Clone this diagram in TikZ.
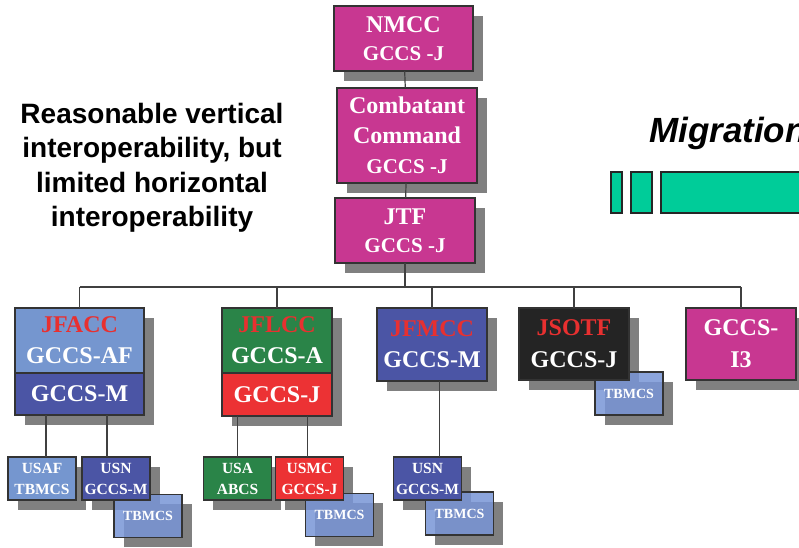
\documentclass[tikz,border=0pt]{standalone}
\usepackage{fontspec}
\setmainfont{Liberation Serif}
\newfontfamily\labelfont{Liberation Sans}
\usetikzlibrary{positioning,backgrounds}

\definecolor{cmdmagenta}{RGB}{200,55,145}
\definecolor{airblue}{RGB}{117,150,207}
\definecolor{seablue}{RGB}{75,85,165}
\definecolor{armygreen}{RGB}{42,132,72}
\definecolor{marinered}{RGB}{236,50,52}
\definecolor{sofblack}{RGB}{36,36,36}
\definecolor{tbmcsblue}{RGB}{120,149,214}
\definecolor{shadowgray}{RGB}{128,128,128}
\definecolor{migrgreen}{RGB}{0,204,153}
\definecolor{titlered}{RGB}{232,48,48}

\tikzset{
  cmdbox/.style={draw=black!80,line width=1.5pt,text=white,align=center,
    inner sep=0pt,outer sep=0pt,font=\bfseries\fontsize{24}{28}\selectfont},
  unitbox/.style={cmdbox,minimum width=68,minimum height=43,
    font=\bfseries\fontsize{15.5}{21}\selectfont},
  tbbox/.style={unitbox,fill=tbmcsblue,fill opacity=0.85,text opacity=1,
    font=\bfseries\fontsize{14}{16}\selectfont},
  link/.style={draw=black!75,line width=1.2pt},
  migbar/.style={draw=black!85,line width=1.5pt,fill=migrgreen}
}

\begin{document}
\begin{tikzpicture}[x=1pt,y=-1pt]
    \useasboundingbox (0,0) rectangle (799,547);
    \clip (0,0) rectangle (799,547);

    % Remark on the left
    \node[align=center,font=\labelfont\bfseries\fontsize{28}{34.5}\selectfont] (remark) at (152,168)
        {Reasonable vertical\\interoperability, but\\limited horizontal\\interoperability};

    % Migration
    \node[anchor=base west,inner sep=0pt,font=\labelfont\bfseries\itshape\fontsize{35}{40}\selectfont] (migr) at (649,142) {Migration};
    \draw[migbar] (611,172) rectangle (622,213);
    \draw[migbar] (631,172) rectangle (652,213);
    \draw[migbar] (661,172) rectangle (830,213);

    % Command chain
    \node[cmdbox,fill=cmdmagenta,minimum width=139,minimum height=65] (nmcc) at (403.5,38.5)
        {NMCC\\{\fontsize{21}{26}\selectfont GCCS -J}};
    \node[cmdbox,fill=cmdmagenta,minimum width=140,minimum height=95,font=\bfseries\fontsize{24}{30}\selectfont] (cc) at (407,135.5)
        {Combatant\\Command\\{\fontsize{21}{26}\selectfont GCCS -J}};
    \node[cmdbox,fill=cmdmagenta,minimum width=140,minimum height=65] (jtf) at (405,230.5)
        {JTF\\{\fontsize{21}{26}\selectfont GCCS -J}};

    \draw[link] (nmcc) -- (cc);
    \draw[link] (cc) -- (jtf);

    % Component commands
    \node[cmdbox,fill=airblue,minimum width=129,minimum height=65,font=\bfseries\fontsize{24}{31}\selectfont] (jfacc) at (79.5,340.5)
        {\textcolor{titlered}{JFACC}\\GCCS-AF};
    \node[cmdbox,fill=seablue,minimum width=129,minimum height=42,below=0pt of jfacc] (jfaccm) {GCCS-M};

    \node[cmdbox,fill=armygreen,minimum width=110,minimum height=65,font=\bfseries\fontsize{24}{31}\selectfont] (jflcc) at (277,340.5)
        {\textcolor{titlered}{JFLCC}\\GCCS-A};
    \node[cmdbox,fill=marinered,minimum width=110,minimum height=43,below=0pt of jflcc] (jflccj) {GCCS-J};

    \node[cmdbox,fill=seablue,minimum width=110,minimum height=73,font=\bfseries\fontsize{24}{31}\selectfont] (jfmcc) at (432,344.5)
        {\textcolor{titlered}{JFMCC}\\GCCS-M};

    \node[tbbox] (tbj) at (629,393.5) {TBMCS};
    \node[cmdbox,fill=sofblack,minimum width=110,minimum height=72,font=\bfseries\fontsize{24}{32}\selectfont] (jsotf) at (574,344)
        {\textcolor{titlered}{JSOTF}\\GCCS-J};

    \node[cmdbox,fill=cmdmagenta,minimum width=110,minimum height=72,font=\bfseries\fontsize{24}{32}\selectfont] (i3) at (741,344)
        {GCCS-\\I3};

    % Bus below JTF
    \coordinate (bus) at (0,287);
    \draw[link] (jtf.south) -- (jtf.south |- bus);
    \draw[link] (jfacc.north |- bus) -- (i3.north |- bus);
    \foreach \n in {jfacc,jflcc,jfmcc,jsotf,i3}
        \draw[link] (\n.north) -- (\n.north |- bus);

    % Service units
    \node[tbbox] (tba) at (148,516) {TBMCS};
    \node[unitbox,fill=airblue] (usaf) at (42,478.5) {USAF\\TBMCS};
    \node[unitbox,fill=seablue] (usn) at (116,478.5) {USN\\GCCS-M};

    \node[tbbox] (tbl) at (339.5,515) {TBMCS};
    \node[unitbox,fill=armygreen] (usa) at (237.5,478.5) {USA\\ABCS};
    \node[unitbox,fill=marinered] (usmc) at (309.5,478.5) {USMC\\GCCS-J};

    \node[tbbox] (tbm) at (459.5,513.5) {TBMCS};
    \node[unitbox,fill=seablue] (usnm) at (427.5,478.5) {USN\\GCCS-M};

    \draw[link] ([xshift=4pt]usaf.north) -- ([xshift=4pt]usaf.north |- jfaccm.south);
    \draw[link] ([xshift=-9pt]usn.north) -- ([xshift=-9pt]usn.north |- jfaccm.south);
    \draw[link] (usa.north) -- (usa.north |- jflccj.south);
    \draw[link] ([xshift=-2pt]usmc.north) -- ([xshift=-2pt]usmc.north |- jflccj.south);
    \draw[link] ([xshift=12pt]usnm.north) -- ([xshift=12pt]usnm.north |- jfmcc.south);

    % Shadows
    \begin{pgfonlayer}{background}
        \foreach \n in {nmcc,cc,jtf,jfacc,jfaccm,jflcc,jflccj,jfmcc,jsotf,tbj,i3,
                        usaf,usn,tba,usa,usmc,tbl,usnm,tbm}
            \fill[shadowgray] ([xshift=9.5pt,yshift=-9.5pt]\n.south west) rectangle ([xshift=9.5pt,yshift=-9.5pt]\n.north east);
    \end{pgfonlayer}
\end{tikzpicture}
\end{document}
